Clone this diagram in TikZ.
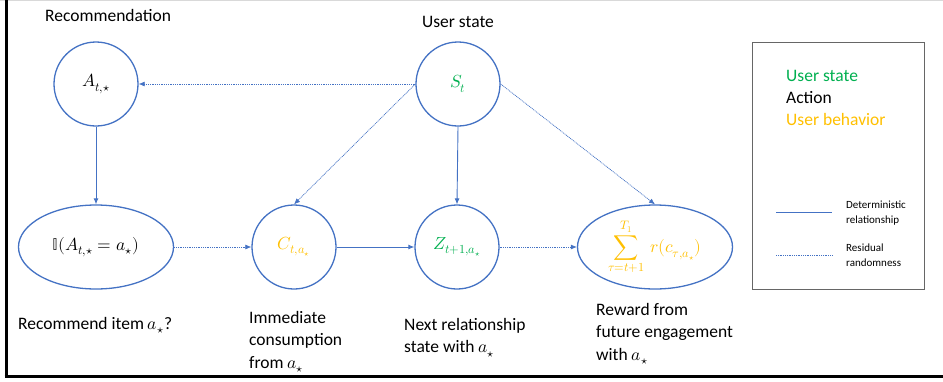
\documentclass[tikz,border=0pt]{standalone}
\usepackage{fontspec}
\usepackage{unicode-math}
\setmainfont{Carlito}
\setmathfont{Latin Modern Math}
\usetikzlibrary{arrows.meta,shapes.geometric}
\definecolor{nodeblue}{HTML}{4472C4}
\definecolor{stgreen}{HTML}{00B050}
\definecolor{behyellow}{HTML}{FFC000}
\tikzset{
  circ/.style={circle,draw=nodeblue,line width=1.3pt,minimum size=84pt,inner sep=0pt,font=\fontsize{17.5}{20}\selectfont},
  ell/.style={ellipse,draw=nodeblue,line width=1.3pt,minimum width=155pt,minimum height=84pt,inner sep=0pt,font=\fontsize{17.5}{20}\selectfont},
  det/.style={draw=nodeblue,line width=0.9pt,-{Latex[length=6pt,width=5pt]}},
  res/.style={draw=nodeblue,line width=0.7pt,dash pattern=on 1pt off 0.8pt,-{Latex[length=6pt,width=5pt]}},
  lbl/.style={font=\fontsize{17.5}{22.5}\selectfont,align=left,anchor=north west,inner sep=0pt},
  small/.style={font=\fontsize{11}{14.5}\selectfont,align=left,anchor=west,inner sep=0pt}
}
\begin{document}
\begin{tikzpicture}[x=1pt,y=-1pt]
\useasboundingbox (0,0) rectangle (943,381);
\fill[white] (0,0) rectangle (943,381);
\draw[gray!30,line width=1pt] (0,0.5) -- (943,0.5);
\draw[black,line width=3pt] (6,0) -- (6,377.5);
\draw[black,line width=3pt] (4.5,376.5) -- (943,376.5);

\node[circ] (A) at (96,84) {$A_{t,\star}$};
\node[circ] (S) at (458,84) {$\color{stgreen}S_t$};
\node[ell] (I) at (96,247) {$\mathbb{I}(A_{t,\star}=a_\star)$};
\node[circ] (C) at (294,247) {$\color{behyellow}C_{t,a_\star}$};
\node[circ] (Z) at (457,247) {$\color{stgreen}Z_{t+1,a_\star}$};
\node[ell,text=behyellow] (R) at (655,247) {$\displaystyle\sum_{\tau=t+1}^{T_1}\,r(c_{\tau,a_\star})$};

\node[lbl,anchor=west] (tRec) at (45,15) {Recommendation};
\node[lbl,anchor=center] (tUS) at (458,22) {User state};
\node[lbl] (t1) at (18,317) {Recommend item $a_\star$?};
\node[lbl] (t2) at (249,311) {Immediate\\consumption\\from $a_\star$};
\node[lbl] (t3) at (404,318) {Next relationship\\state with $a_\star$};
\node[lbl] (t4) at (596,303) {Reward from\\future engagement\\with $a_\star$};

\draw[res] (S.west) -- (A.east);
\draw[det] (A.south) -- (I.north);
\draw[res] (I.east) -- (C.west);
\draw[res] (S.west) -- (C.north);
\draw[det] (C.east) -- (Z.west);
\draw[det] (S.south) -- (Z.north);
\draw[res] (Z.east) -- (R.west);
\draw[res] (S.east) -- (R.north);

\node[draw=gray!80!black,line width=0.8pt,minimum width=172pt,minimum height=247pt,inner sep=0pt] (L) at (838,165.5) {};
\node[lbl,anchor=west,text=stgreen] (k1) at (786,76) {User state};
\node[lbl,anchor=west] (k2) at (786,98) {Action};
\node[lbl,anchor=west,text=behyellow] (k3) at (786,119) {User behavior};
\coordinate (d1) at (776,212);
\coordinate (d2) at (832,212);
\coordinate (r1) at (776,255);
\coordinate (r2) at (832,255);
\draw[nodeblue,line width=0.9pt] (d1) -- (d2);
\draw[nodeblue,line width=0.7pt,dash pattern=on 1pt off 0.8pt] (r1) -- (r2);
\node[small] (k4) at (846,213) {Deterministic\\relationship};
\node[small] (k5) at (846,255) {Residual\\randomness};
\end{tikzpicture}
\end{document}
